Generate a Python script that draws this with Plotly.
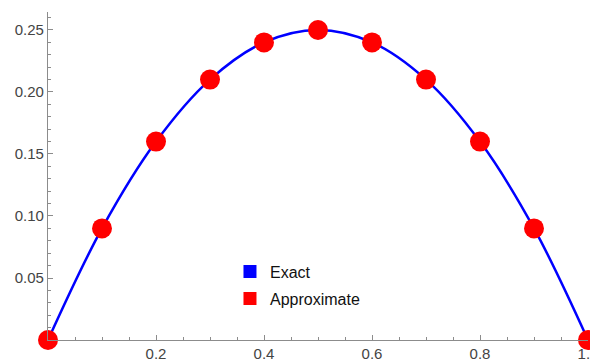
import plotly.graph_objects as go

x_vals = [0.0, 0.1, 0.2, 0.3, 0.4, 0.5, 0.6, 0.7, 0.8, 0.9, 1.0]
y_vals = [0.0, 0.09, 0.16, 0.21, 0.24, 0.25, 0.24, 0.21, 0.16, 0.09, 0.0]
x_ticks = [0.2, 0.4, 0.6, 0.8, 1.0]
x_tick_labels = ["0.2", "0.4", "0.6", "0.8", "1.0"]
y_ticks = [0.05, 0.10, 0.15, 0.20, 0.25]
y_tick_labels = ["0.05", "0.10", "0.15", "0.20", "0.25"]
legend_names = ["Exact", "Approximate"]
legend_colors = ["#0000ff", "#ff0000"]

fig = go.Figure()
fig.add_trace(go.Scatter(x=x_vals, y=y_vals, mode="lines",
                         line=dict(color="#0000ff", width=2.5, shape="spline", smoothing=1.0),
                         showlegend=False, cliponaxis=False))
fig.add_trace(go.Scatter(x=x_vals, y=y_vals, mode="markers",
                         marker=dict(color="#ff0000", size=20),
                         showlegend=False, cliponaxis=False))
for name, col in zip(legend_names, legend_colors):
    fig.add_trace(go.Scatter(x=[None], y=[None], mode="markers", name=name,
                             legendgroup=name,
                             marker=dict(color=col, size=13, symbol="square")))

axis_common = dict(showline=True, linecolor="#8c8c8c", linewidth=1.2,
                   showgrid=False, zeroline=False, ticks="inside", ticklen=5,
                   tickcolor="#8c8c8c", tickwidth=1.2, automargin=False,
                   ticklabeloverflow="allow",
                   tickfont=dict(family="Liberation Sans, Arial, sans-serif", size=15, color="#444444"))

fig.update_xaxes(range=[0, 1], tickvals=x_ticks, ticktext=x_tick_labels,
                 minor=dict(dtick=0.05, tick0=0, ticks="inside", ticklen=3,
                            tickcolor="#8c8c8c", tickwidth=1),
                 **axis_common)
fig.update_yaxes(range=[0, 0.2645], tickvals=y_ticks, ticktext=y_tick_labels,
                 minor=dict(dtick=0.01, tick0=0, ticks="inside", ticklen=3,
                            tickcolor="#8c8c8c", tickwidth=1),
                 **axis_common)

fig.update_layout(width=590, height=352,
                  margin=dict(l=40, r=10, t=4, b=20, autoexpand=False),
                  plot_bgcolor="white", paper_bgcolor="white",
                  legend=dict(x=0.337, y=0.26, xanchor="left", yanchor="top",
                              bgcolor="rgba(0,0,0,0)", itemwidth=30, tracegroupgap=3,
                              font=dict(family="Liberation Sans, Arial, sans-serif", size=16, color="#111111")))

fig.write_html("out.html")
